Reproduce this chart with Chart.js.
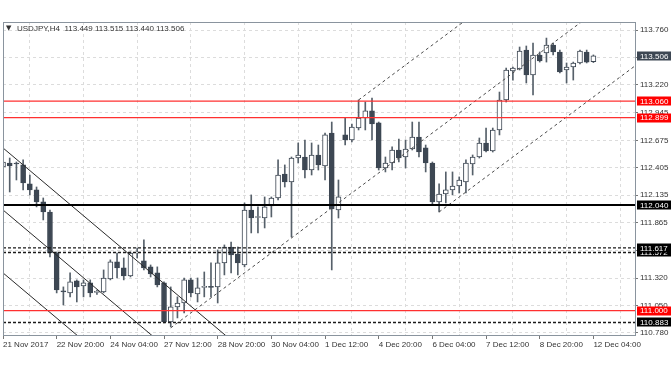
<!DOCTYPE html>
<html><head><meta charset="utf-8">
<script src="https://cdn.jsdelivr.net/npm/chart.js@4/dist/chart.umd.min.js"></script>
<style>html,body{margin:0;padding:0;background:#fff}#wrap{width:672px;height:372px;position:relative}</style>
</head><body><div id="wrap"><canvas id="c"></canvas></div>
<script>
// ---- data ----
const symbolTitle = 'USDJPY,H4';
const opens = [112.413,112.452,112.452,112.433,112.246,112.187,112.069,111.970,111.567,111.194,
111.174,111.292,111.243,111.272,111.180,111.184,111.312,111.479,111.420,111.341,
111.567,111.489,111.430,111.371,111.272,110.889,111.036,111.075,111.302,111.164,
111.228,111.238,111.233,111.469,111.626,111.557,111.449,111.990,111.916,111.911,
112.029,112.108,112.344,112.265,112.501,112.511,112.383,112.531,112.423,112.747,
111.990,112.728,112.678,112.796,112.895,112.964,112.846,112.403,112.452,112.580,
112.511,112.590,112.708,112.600,112.452,112.069,112.147,112.187,112.226,112.265,
112.442,112.511,112.649,112.570,112.777,113.072,113.357,113.377,113.563,113.318,
113.514,113.534,113.613,113.544,113.367,113.396,113.436,113.544,113.449];
const highs = [112.511,112.501,112.462,112.482,112.334,112.216,112.108,111.990,111.577,111.233,
111.371,111.302,111.302,111.302,111.203,111.400,111.499,111.567,111.518,111.577,
111.616,111.695,111.449,111.430,111.282,111.233,111.135,111.321,111.321,111.321,
111.380,111.469,111.597,111.646,111.675,111.626,112.059,112.138,112.020,112.118,
112.118,112.482,112.433,112.511,112.649,112.678,112.649,112.629,112.747,112.855,
112.285,112.895,112.836,113.072,113.052,113.091,112.855,112.511,112.610,112.688,
112.678,112.855,112.855,112.629,112.462,112.246,112.364,112.364,112.315,112.482,
112.531,112.698,112.796,112.796,113.150,113.386,113.396,113.593,113.603,113.632,
113.544,113.681,113.632,113.563,113.436,113.445,113.563,113.563,113.515];
const lows = [112.364,112.167,112.285,112.187,112.138,112.020,111.892,111.528,111.174,111.056,
111.135,111.085,111.135,111.135,111.160,111.174,111.302,111.321,111.302,111.331,
111.518,111.400,111.331,111.233,110.879,110.840,110.928,110.977,111.135,111.085,
111.135,111.135,111.075,111.351,111.371,111.351,111.430,111.764,111.764,111.813,
111.921,112.088,112.216,111.725,112.452,112.305,112.334,112.383,112.285,111.400,
111.911,112.629,112.659,112.777,112.777,112.678,112.383,112.364,112.383,112.462,
112.403,112.580,112.511,112.364,112.049,111.970,112.059,112.138,112.157,112.157,
112.334,112.501,112.560,112.560,112.728,113.052,113.268,113.367,113.239,113.121,
113.445,113.445,113.514,113.337,113.239,113.268,113.426,113.436,113.440];
const closes = [112.462,112.423,112.442,112.256,112.187,112.069,111.970,111.567,111.203,111.184,
111.282,111.233,111.272,111.174,111.190,111.321,111.479,111.420,111.341,111.567,
111.575,111.420,111.361,111.253,110.889,111.036,111.075,111.302,111.174,111.223,
111.238,111.228,111.469,111.626,111.548,111.469,111.990,111.911,111.926,112.020,
112.108,112.334,112.265,112.501,112.531,112.383,112.531,112.433,112.728,112.000,
112.118,112.678,112.806,112.895,112.964,112.836,112.403,112.452,112.580,112.501,
112.590,112.708,112.560,112.452,112.069,112.147,112.187,112.226,112.285,112.452,
112.511,112.649,112.570,112.777,113.072,113.367,113.386,113.554,113.318,113.514,
113.455,113.613,113.544,113.347,113.396,113.436,113.554,113.445,113.506];
const xTickLabels = ['21 Nov 2017','22 Nov 20:00','24 Nov 04:00','27 Nov 12:00','28 Nov 20:00','30 Nov 04:00',
  '1 Dec 12:00','4 Dec 20:00','6 Dec 04:00','7 Dec 12:00','8 Dec 20:00','12 Dec 04:00'];
const yTickValues = [113.760,113.490,113.220,112.945,112.675,112.405,112.135,111.865,111.595,111.320,111.050,110.780];
const redLevels = [113.060,112.899,111.000];
const solidLevels = [112.040];
const dottedLevels = [111.617,111.572,110.883];
// trend lines: [startBar, startPrice, endBar, endPrice]
const downTrendLines = [[0,112.600,34,110.710],[0,111.990,23,110.711],[0,111.371,12,110.704]];
const upTrendLines = [[25,110.830,86.2,113.839],[53,113.072,68.6,113.839],[65,111.970,94.2,113.407]];

// ---- build ----
const X_MAX = 94.2, Y_MIN = 110.760, Y_MAX = 113.839;
const DARK = '#3d4753';
const idx = opens.map((_, i) => i);
const lastBar = opens.length - 1;

const datasets = [];
datasets.push({
  type: 'bar', label: 'body', order: 1, grouped: false,
  data: idx.map(i => ({x: i, y: [opens[i], closes[i]]})),
  backgroundColor: idx.map(i => closes[i] >= opens[i] ? '#ffffff' : DARK),
  borderColor: DARK, borderWidth: 1, borderSkipped: false, barThickness: 5
});
datasets.push({
  type: 'bar', label: 'wick', order: 2, grouped: false,
  data: idx.map(i => ({x: i, y: [lows[i], highs[i]]})),
  backgroundColor: '#56606a', borderWidth: 0, barThickness: 1
});
function hline(v, color, width, dash) {
  return {type: 'line', order: 0, data: [{x: 0, y: v}, {x: X_MAX, y: v}],
    borderColor: color, borderWidth: width, borderDash: dash, pointRadius: 0, tension: 0, fill: false};
}
redLevels.forEach(v => datasets.push(hline(v, '#ff3030', 1.3, [])));
solidLevels.forEach(v => datasets.push(hline(v, '#000000', 2, [])));
dottedLevels.forEach(v => datasets.push(hline(v, '#1a1a1a', 1.4, [3, 2])));
downTrendLines.forEach(t => datasets.push({type: 'line', order: 0,
  data: [{x: t[0], y: t[1]}, {x: t[2], y: t[3]}], borderColor: '#2a2a2a', borderWidth: 1,
  pointRadius: 0, tension: 0, fill: false}));
upTrendLines.forEach(t => datasets.push({type: 'line', order: 0,
  data: [{x: t[0], y: t[1]}, {x: t[2], y: t[3]}], borderColor: '#4a4a4a', borderWidth: 1,
  borderDash: [3, 3], pointRadius: 0, tension: 0, fill: false}));

const tags = [{v: closes[lastBar], bg: DARK}]
  .concat(redLevels.map(v => ({v, bg: '#ff0000'})))
  .concat(solidLevels.map(v => ({v, bg: '#000000'})))
  .concat(dottedLevels.slice().reverse().map(v => ({v, bg: '#000000'})));

const decor = {
  id: 'decor',
  afterDraw(chart) {
    const ctx = chart.ctx, a = chart.chartArea, ys = chart.scales.y;
    ctx.save();
    // frame
    ctx.strokeStyle = '#8a949e'; ctx.lineWidth = 1;
    ctx.strokeRect(a.left + 0.5, a.top + 0.5, a.right - a.left, a.bottom - a.top);
    // header
    ctx.fillStyle = '#333';
    ctx.font = '7px "DejaVu Sans"';
    ctx.textBaseline = 'middle';
    ctx.fillText('▼', a.left + 3, a.top + 6);
    ctx.font = '8px "Liberation Sans"';
    ctx.fillText(symbolTitle + '  ' + [opens[lastBar], highs[lastBar], lows[lastBar], closes[lastBar]].map(v => v.toFixed(3)).join(' '), a.left + 14, a.top + 6.5);
    // price tags
    tags.forEach(t => {
      const py = ys.getPixelForValue(t.v);
      ctx.fillStyle = t.bg;
      ctx.fillRect(ys.left + 2, Math.round(py) - 4.5, 34, 9);
      ctx.fillStyle = '#ffffff';
      ctx.fillText(t.v.toFixed(3), ys.left + 5, py + 0.5);
    });
    ctx.restore();
  }
};

Chart.defaults.font.family = '"Liberation Sans", Arial, sans-serif';
Chart.defaults.font.size = 8;
Chart.defaults.color = '#333';

new Chart(document.getElementById('c'), {
  type: 'bar',
  data: {datasets},
  options: {
    responsive: true, maintainAspectRatio: false, animation: false, events: [],
    layout: {padding: {left: 3, top: 22, right: 0, bottom: 0}, autoPadding: false},
    plugins: {legend: {display: false}, tooltip: {enabled: false}},
    scales: {
      x: {
        type: 'linear', min: 0, max: X_MAX, offset: false,
        afterBuildTicks(s) { const t = []; for (let v = 0; v <= 92; v += 4) t.push({value: v}); s.ticks = t; },
        afterFit(s) { s.height = 37; },
        ticks: {autoSkip: false, maxRotation: 0, minRotation: 0, align: 'start', padding: 1, color: '#333',
          callback: v => (v % 8 === 0 ? xTickLabels[v / 8] : '')},
        grid: {offset: false, drawTicks: true, tickLength: 4,
          color: c => (c.tick && c.tick.value % 8 === 4) ? '#dcdcdc' : 'rgba(0,0,0,0)',
          tickColor: c => (c.tick && c.tick.value % 8 === 0) ? '#777' : 'rgba(0,0,0,0)'},
        border: {display: true, color: '#8a949e', width: 1, dash: [3, 3]}
      },
      y: {
        type: 'linear', position: 'right', min: Y_MIN, max: Y_MAX,
        afterBuildTicks(s) { s.ticks = yTickValues.map(v => ({value: v})); },
        afterFit(s) { s.width = 37; },
        ticks: {autoSkip: false, padding: 2, color: '#333', callback: v => Number(v).toFixed(3)},
        grid: {color: '#dcdcdc', tickLength: 3, tickColor: '#777'},
        border: {display: true, color: '#8a949e', width: 1, dash: [3, 3]}
      }
    }
  },
  plugins: [decor]
});
</script></body></html>
